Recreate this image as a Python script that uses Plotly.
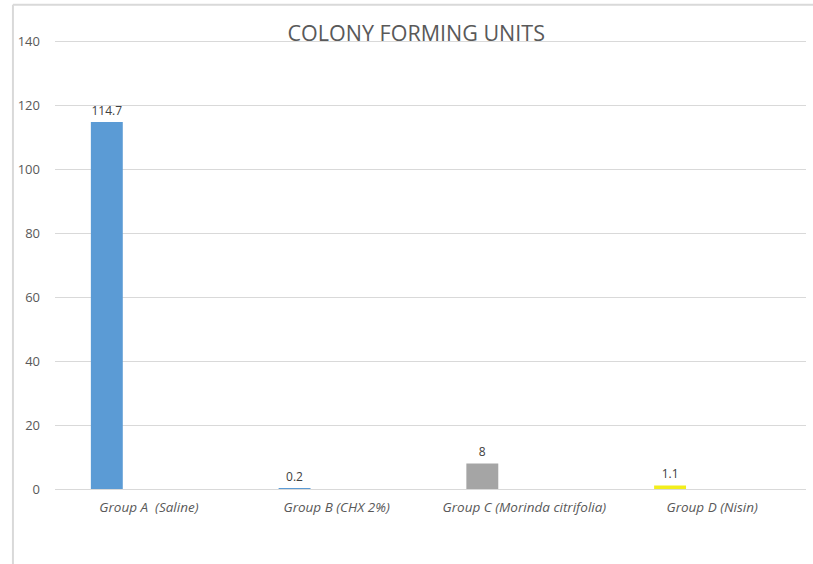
import plotly.graph_objects as go

categories = ["Group A \u00a0(Saline)", "Group B (CHX 2%)", "Group C (Morinda citrifolia)", "Group D (Nisin)"]
values = [114.7, 0.2, 8, 1.1]
labels = ["114.7", "0.2", "8", "1.1"]
colors = ["#5B9BD5", "#5B9BD5", "#A5A5A5", "#F2EE1C"]
y_ticks = [0, 20, 40, 60, 80, 100, 120, 140]

FONT = "Open Sans, Liberation Sans, sans-serif"

fig = go.Figure()
fig.add_trace(go.Bar(
    x=categories, y=values, marker=dict(color=colors, line=dict(width=0)),
    width=0.17, offset=-0.309,
    text=labels, textposition="outside", cliponaxis=False,
    textfont=dict(family=FONT, size=12, color="#404040"),
    hoverinfo="skip"
))

fig.update_layout(
    width=813, height=564,
    margin=dict(l=55, r=7, t=38, b=75),
    paper_bgcolor="white", plot_bgcolor="white",
    showlegend=False,
    title=dict(text="COLONY FORMING UNITS", x=0.512, xanchor="center", y=0.927, yanchor="bottom",
               font=dict(family=FONT, size=21.5, color="#595959")),
    xaxis=dict(showgrid=False, showline=False, zeroline=False, ticks="",
               tickfont=dict(family=FONT, size=13.5, color="#595959", style="italic"),
               ticklabelstandoff=8),
    yaxis=dict(range=[0, 141], tickvals=y_ticks,
               showgrid=True, gridcolor="#D9D9D9", gridwidth=1,
               zeroline=True, zerolinecolor="#D9D9D9", zerolinewidth=1, showline=False, ticks="",
               ticklabelstandoff=14,
               tickfont=dict(family=FONT, size=13, color="#595959")),
    shapes=[
        dict(type="line", xref="paper", yref="paper", x0=-0.056, x1=1.02, y0=1.074, y1=1.074,
             line=dict(color="#D9D9D9", width=2)),
        dict(type="line", xref="paper", yref="paper", x0=-0.056, x1=-0.056, y0=1.074, y1=-0.2,
             line=dict(color="#D9D9D9", width=2)),
    ],
)

fig.write_html("out.html")
